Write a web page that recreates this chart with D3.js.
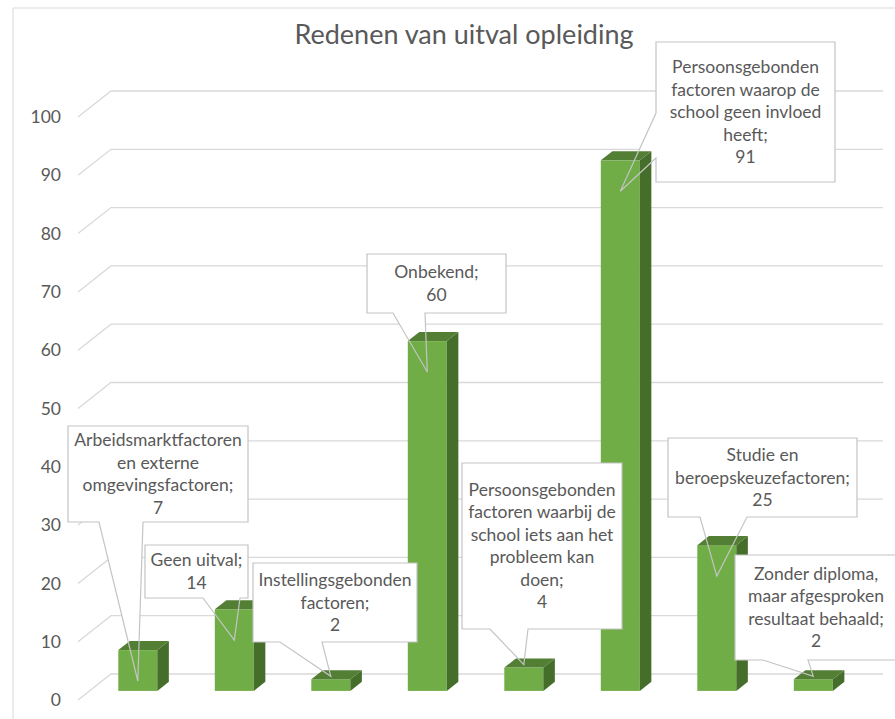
<!DOCTYPE html>
<html>
<head>
<meta charset="utf-8">
<script src="https://cdn.jsdelivr.net/npm/d3@7"></script>
<style>
  body { margin: 0; background: #fff; }
  svg text { font-family: "Lato", "Noto Sans", sans-serif; fill: #595959; }
</style>
</head>
<body>
<svg id="chart" width="895" height="719"></svg>
<script>
// --- data ---
const categories = [
  "Arbeidsmarktfactoren en externe omgevingsfactoren",
  "Geen uitval",
  "Instellingsgebonden factoren",
  "Onbekend",
  "Persoonsgebonden factoren waarbij de school iets aan het probleem kan doen",
  "Persoonsgebonden factoren waarop de school geen invloed heeft",
  "Studie en beroepskeuzefactoren",
  "Zonder diploma, maar afgesproken resultaat behaald"
];
const values = [7, 14, 2, 60, 4, 91, 25, 2];
// how the data labels wrap (category name + ";")
const labelLines = [
  ["Arbeidsmarktfactoren", "en externe", "omgevingsfactoren;"],
  ["Geen uitval;"],
  ["Instellingsgebonden", "factoren;"],
  ["Onbekend;"],
  ["Persoonsgebonden", "factoren waarbij de", "school iets aan het", "probleem kan", "doen;"],
  ["Persoonsgebonden", "factoren waarop de", "school geen invloed", "heeft;"],
  ["Studie en", "beroepskeuzefactoren;"],
  ["Zonder diploma,", "maar afgesproken", "resultaat behaald;"]
];
const yTicks = d3.range(0, 101, 10);
const title = "Redenen van uitval opleiding";

// --- layout of the callout boxes (position only) ---
const boxes = [
  { x: 68,  y: 426, w: 180, h: 96,  side: "bottom", b0: 99,  b1: 143 },
  { x: 145, y: 545, w: 103, h: 53,  side: "bottom", b0: 203, b1: 240 },
  { x: 253, y: 563, w: 164, h: 79,  side: "bottom", b0: 280, b1: 322 },
  { x: 367, y: 254, w: 139, h: 59,  side: "bottom", b0: 393, b1: 425 },
  { x: 462, y: 463, w: 160, h: 166, side: "bottom", b0: 490, b1: 528 },
  { x: 656, y: 42,  w: 179, h: 140, side: "left",   b0: 113, b1: 158 },
  { x: 668, y: 438, w: 189, h: 79,  side: "bottom", b0: 700, b1: 747 },
  { x: 735, y: 555, w: 162, h: 105, side: "bottom", b0: 763, b1: 808 }
];

const svg = d3.select("#chart");
const width = +svg.attr("width");

const gridColor = "#d9d9d9";
const frontColor = "#70ad47";
const topColor = "#537f34";
const sideColor = "#466e2b";
const fontSize = 17.5;
const lineH = 22.5;

// front floor scales, the back wall is shifted by (wallDx, wallDy)
const x = d3.scaleBand().domain(categories).range([78, 850]);
const y = d3.scaleLinear().domain([0, 100]).range([700, 117]);
const wallDx = 33, wallDy = -26;
const barW = 39;
const d0 = 0.35, d1 = 0.70; // bar depth (fraction of floor depth)

// chart frame
svg.append("path")
  .attr("d", `M13,${719} V8 H${width}`)
  .attr("fill", "none")
  .attr("stroke", gridColor);

// title
svg.append("text")
  .attr("x", 464).attr("y", 44)
  .attr("text-anchor", "middle")
  .style("font-size", "27px")
  .text(title);

// gridlines + y labels
const grid = svg.append("g");
yTicks.forEach(t => {
  grid.append("path")
    .attr("d", `M78,${y(t)} L${78 + wallDx},${y(t) + wallDy} H883`)
    .attr("fill", "none")
    .attr("stroke", gridColor)
    .attr("stroke-width", 1.3);
  grid.append("text")
    .attr("x", 61).attr("y", y(t))
    .attr("dy", "0.35em")
    .attr("text-anchor", "end")
    .style("font-size", fontSize + "px")
    .text(t);
});

// bar geometry
const bars = categories.map((c, i) => {
  const v = values[i];
  const fx = x(c) + (x.bandwidth() - barW) / 2 + d0 * wallDx;
  const ddx = (d1 - d0) * wallDx, ddy = (d1 - d0) * wallDy;
  const top = y(v) + d0 * wallDy;
  const bot = y(0) + d0 * wallDy;
  const tipV = v > 5 ? v - 5.3 : v + 0.5;
  return {
    c, v, fx, top, bot, ddx, ddy,
    tipX: fx + barW / 2,
    tipY: y(tipV) + d0 * wallDy
  };
});

function wedgePoints(b, bar) {
  if (b.side === "left") return [[b.x, b.b0], [bar.tipX, bar.tipY], [b.x, b.b1]];
  return [[b.b0, b.y + b.h], [bar.tipX, bar.tipY], [b.b1, b.y + b.h]];
}

// wedge fills under the bars
svg.append("g").selectAll("polygon")
  .data(boxes)
  .join("polygon")
  .attr("points", (b, i) => wedgePoints(b, bars[i]).join(" "))
  .attr("fill", "#fff");

// 3d bars
const barG = svg.append("g").selectAll("g")
  .data(bars)
  .join("g");

barG.append("rect")
  .attr("x", d => d.fx)
  .attr("y", d => d.top)
  .attr("width", barW)
  .attr("height", d => d.bot - d.top)
  .attr("fill", frontColor);

barG.append("polygon")
  .attr("points", d => [
    [d.fx + barW, d.top], [d.fx + barW + d.ddx, d.top + d.ddy],
    [d.fx + barW + d.ddx, d.bot + d.ddy], [d.fx + barW, d.bot]
  ].join(" "))
  .attr("fill", sideColor);

barG.append("polygon")
  .attr("points", d => [
    [d.fx, d.top], [d.fx + d.ddx, d.top + d.ddy],
    [d.fx + barW + d.ddx, d.top + d.ddy], [d.fx + barW, d.top]
  ].join(" "))
  .attr("fill", topColor);

// callouts
const call = svg.append("g").selectAll("g")
  .data(boxes)
  .join("g");

call.append("rect")
  .attr("x", b => b.x).attr("y", b => b.y)
  .attr("width", b => b.w).attr("height", b => b.h)
  .attr("fill", "#fff");

call.append("path")
  .attr("d", (b, i) => {
    const [p0, tip, p1] = wedgePoints(b, bars[i]);
    const r = b.x + b.w, bt = b.y + b.h;
    if (b.side === "left") {
      return `M${b.x},${b.y} H${r} V${bt} H${b.x} V${p1[1]} L${tip} L${p0} Z`;
    }
    return `M${b.x},${b.y} H${r} V${bt} H${p1[0]} L${tip} L${p0} H${b.x} Z`;
  })
  .attr("fill", "none")
  .attr("stroke", "#c4c4c4")
  .attr("stroke-width", 1.2);

call.each(function (b, i) {
  const lines = labelLines[i].concat([String(values[i])]);
  const cy = b.y + b.h / 2;
  const start = cy - (lines.length - 1) * lineH / 2;
  d3.select(this).selectAll("text")
    .data(lines)
    .join("text")
    .attr("x", b.x + b.w / 2)
    .attr("y", (l, k) => start + k * lineH)
    .attr("dy", "0.35em")
    .attr("text-anchor", "middle")
    .style("font-size", fontSize + "px")
    .text(l => l);
});
</script>
</body>
</html>
